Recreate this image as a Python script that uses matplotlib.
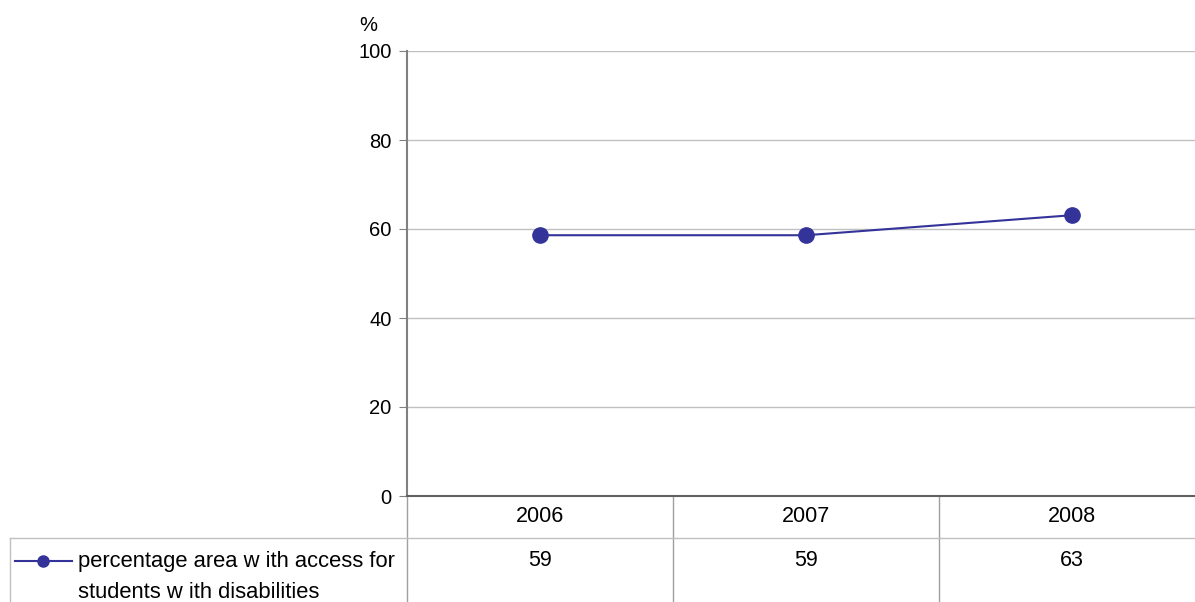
import numpy as np
import matplotlib.pyplot as plt
import matplotlib.transforms as mtransforms
from matplotlib.lines import Line2D

years = ['2006', '2007', '2008']
values = [58.6, 58.6, 63.1]
table_values = ['59', '59', '63']

plt.rcParams['font.family'] = ['Liberation Sans', 'DejaVu Sans']

W, H = 1195, 602
fig = plt.figure(figsize=(W / 100, H / 100), dpi=100)
ax = fig.add_axes([407 / W, 1 - 496 / H, (1205 - 407) / W, (496 - 51) / H])

x = np.arange(len(years))
ax.plot(x, values, color='#333399', lw=1.5, marker='o', ms=11, zorder=3)

ax.set_xlim(-0.5, len(years) - 0.5)
ax.set_ylim(0, 100)
ax.set_yticks([0, 20, 40, 60, 80, 100])
ax.set_xticks([])
ax.yaxis.grid(True, color='#c0c0c0', lw=1)
ax.set_axisbelow(True)
ax.tick_params(axis='y', length=6, color='#808080', labelsize=14.5, pad=5)
for s in ['top', 'right']:
    ax.spines[s].set_visible(False)
ax.spines['left'].set_color('#808080')
ax.spines['left'].set_linewidth(1.5)
ax.spines['bottom'].set_color('#606060')
ax.spines['bottom'].set_linewidth(1.5)

ax.text(-0.048, 1.035, '%', transform=ax.transAxes, fontsize=14.5, ha='center', va='bottom')

# data table under the plot
row1 = -(538 - 496) / 445
row2 = -(602 - 496) / 445
trans = mtransforms.blended_transform_factory(ax.transData, ax.transAxes)
grid_c = '#a0a0a0'
for i, (yr, v) in enumerate(zip(years, table_values)):
    ax.text(i, row1 / 2, yr, transform=trans, ha='center', va='center', fontsize=15.5)
    ax.text(i, row1 - 0.05, v, transform=trans, ha='center', va='center', fontsize=15.5)
for b in np.arange(0.5, len(years) - 0.5):
    ax.add_line(Line2D([b, b], [0, row2], transform=trans, color=grid_c, lw=1, clip_on=False))
ax.add_line(Line2D([-0.5, -0.5], [0, row2], transform=trans, color=grid_c, lw=1, clip_on=False))

# legend cell
fig.add_artist(Line2D([10 / W, 1], [1 - 538 / H] * 2, color='#c0c0c0', lw=1))
fig.add_artist(Line2D([10 / W, 10 / W], [1 - 538 / H, 0], color='#c0c0c0', lw=1))
fig.add_artist(Line2D([15 / W, 72 / W], [1 - 561 / H] * 2, color='#333399', lw=1.5))
fig.add_artist(Line2D([43 / W], [1 - 561 / H], color='#333399', marker='o', ms=8))
fig.text(78 / W, 1 - 561 / H, 'percentage area w ith access for', fontsize=15.8, va='center')
fig.text(78 / W, 1 - 592 / H, 'students w ith disabilities', fontsize=15.8, va='center')

fig.savefig('out.png', dpi=100)
